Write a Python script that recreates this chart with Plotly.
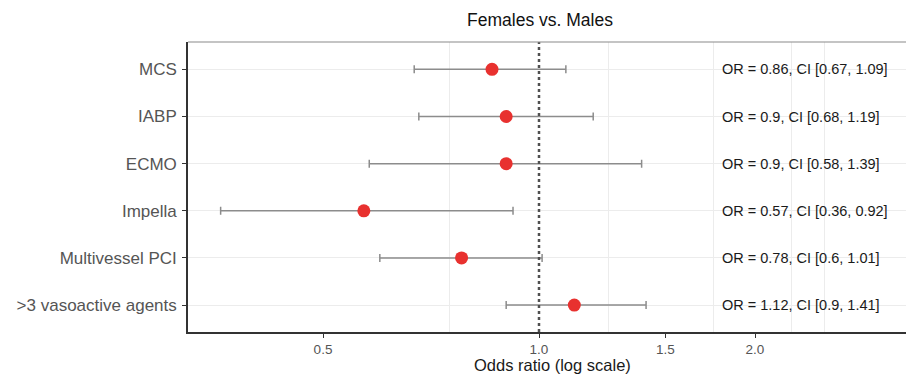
import math
import plotly.graph_objects as go

# ---- data ----
outcomes = ["MCS", "IABP", "ECMO", "Impella", "Multivessel PCI", ">3 vasoactive agents"]
odds_ratio = [0.86, 0.90, 0.90, 0.57, 0.78, 1.12]
ci_low = [0.67, 0.68, 0.58, 0.36, 0.60, 0.90]
ci_high = [1.09, 1.19, 1.39, 0.92, 1.01, 1.41]
label_or = ["0.86", "0.9", "0.9", "0.57", "0.78", "1.12"]
label_lo = ["0.67", "0.68", "0.58", "0.36", "0.6", "0.9"]
label_hi = ["1.09", "1.19", "1.39", "0.92", "1.01", "1.41"]
x_ticks = [0.5, 1.0, 1.5, 2.0]
x_tick_text = ["0.5", "1.0", "1.5", "2.0"]
x_minor_grid = [0.75, 1.25, 1.75, 2.25, 2.5]
ref_or = 1.0

# ---- style constants ----
FONT = "Liberation Sans, Arial, sans-serif"
X_MIN, X_MAX = 0.3242, 3.247
LABEL_X = 1.79
POINT_COLOR = "#e8312f"
BAR_COLOR = "#8c8c8c"

err_plus = [h - o for h, o in zip(ci_high, odds_ratio)]
err_minus = [o - l for o, l in zip(odds_ratio, ci_low)]

fig = go.Figure()

# reference line at OR = 1 (on a hidden overlay y-axis spanning the full panel)
fig.add_trace(go.Scatter(
    x=[ref_or, ref_or], y=[0, 1], yaxis="y2", mode="lines",
    line=dict(color="#505050", width=2.5, dash="3px,3px"),
    showlegend=False, hoverinfo="skip",
))

fig.add_trace(go.Scatter(
    x=odds_ratio, y=outcomes, mode="markers",
    marker=dict(color=POINT_COLOR, size=13, line=dict(width=0)),
    error_x=dict(type="data", symmetric=False, array=err_plus, arrayminus=err_minus,
                 color=BAR_COLOR, thickness=1.5, width=4),
    showlegend=False, hoverinfo="skip",
))

# top panel border
fig.add_shape(type="line", xref="paper", yref="paper", x0=0, x1=1, y0=1, y1=1,
              line=dict(color="#8a8a8a", width=1.2))

for i, name in enumerate(outcomes):
    fig.add_annotation(
        x=math.log10(LABEL_X), y=name, xref="x", yref="y",
        text=f"OR = {label_or[i]}, CI [{label_lo[i]}, {label_hi[i]}]",
        showarrow=False, xanchor="left", yanchor="middle",
        font=dict(family=FONT, size=14.5, color="#1a1a1a"),
    )

# x-axis title
fig.add_annotation(
    x=(552 - 188) / 718, y=(332 - 365) / 290, xref="paper", yref="paper",
    text="Odds ratio (log scale)", showarrow=False, xanchor="center", yanchor="middle",
    font=dict(family=FONT, size=16.5, color="#1a1a1a"),
)

fig.update_layout(
    width=906, height=376,
    margin=dict(l=188, r=0, t=42, b=44),
    paper_bgcolor="white", plot_bgcolor="white",
    title=dict(text="Females vs. Males", x=(540 - 188) / 718, xref="paper", xanchor="center",
               y=1 - 20 / 376, yref="container", yanchor="middle",
               font=dict(family=FONT, size=17.5, color="#111111")),
    xaxis=dict(
        type="log", range=[math.log10(X_MIN), math.log10(X_MAX)],
        tickvals=x_ticks, ticktext=x_tick_text,
        tickfont=dict(family=FONT, size=13.5, color="#555555"),
        ticks="outside", ticklen=4, tickcolor="#333333", tickwidth=1,
        showgrid=False, zeroline=False,
        showline=True, linecolor="#333333", linewidth=1.6,
        minor=dict(tickvals=x_minor_grid, showgrid=True, gridcolor="#ececec",
                   gridwidth=1, ticks=""),
    ),
    yaxis=dict(
        type="category", categoryorder="array", categoryarray=outcomes,
        range=[5.57, -0.58],
        tickfont=dict(family=FONT, size=17, color="#555555"),
        ticks="outside", ticklen=4, tickcolor="#333333", tickwidth=1,
        showgrid=True, gridcolor="#ececec", gridwidth=1, zeroline=False,
        showline=True, linecolor="#333333", linewidth=1.6,
        ticklabelstandoff=2,
    ),
    yaxis2=dict(overlaying="y", range=[0, 1], visible=False, fixedrange=True),
)

fig.write_html(
    "out.html",
    config={"displayModeBar": False},
    post_script="document.body.style.margin='0';document.body.style.overflow='hidden';",
)
